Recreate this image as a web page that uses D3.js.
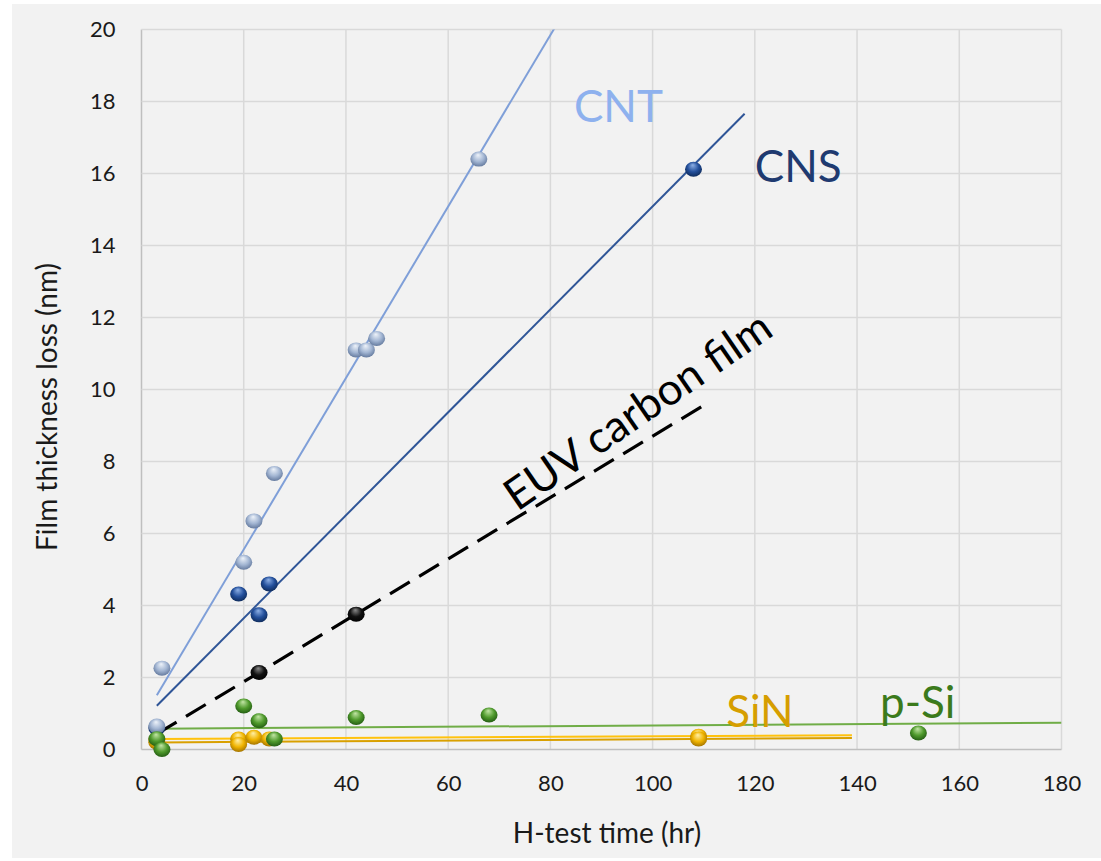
<!DOCTYPE html>
<html>
<head>
<meta charset="utf-8">
<script src="https://cdn.jsdelivr.net/npm/d3@7"></script>
<style>
  body { margin: 0; background: #ffffff; }
  svg { display: block; }
  .tick text { font-family: Lato, "Open Sans", sans-serif; font-size: 22px; fill: #1a1a1a; }
  .axisTitle { font-family: Lato, "Open Sans", sans-serif; fill: #1a1a1a; }
  .label { font-family: Lato, "Open Sans", sans-serif; }
</style>
</head>
<body>
<svg width="1101" height="861"></svg>
<script>
// data (H-test time in hr, thickness loss in nm)
const cntX = [3, 4, 20, 22, 26, 42, 44, 46, 66]
const cntY = [0.65, 2.26, 5.2, 6.35, 7.67, 11.1, 11.1, 11.42, 16.4]

const cnsX = [3, 19, 23, 25, 108]
const cnsY = [0.6, 4.32, 3.74, 4.6, 16.12]

const euvX = [23, 42]
const euvY = [2.14, 3.76]

const psiX = [3, 4, 20, 23, 26, 42, 68, 152]
const psiY = [0.3, 0.0, 1.21, 0.8, 0.29, 0.89, 0.96, 0.46]

const sinAX = [3, 19, 22, 109]
const sinAY = [0.27, 0.29, 0.34, 0.37]
const sinBX = [3, 19, 25, 109]
const sinBY = [0.2, 0.14, 0.29, 0.29]

// x range each trendline is drawn over
const cntRange = [3, 90]
const cnsRange = [3, 118]
const euvRange = [3, 111]
const psiRange = [3, 180]
const sinRange = [3, 139]

const xTicks = [0, 20, 40, 60, 80, 100, 120, 140, 160, 180]
const yTicks = [0, 2, 4, 6, 8, 10, 12, 14, 16, 18, 20]

const svg = d3.select("svg")

//grey chart background
svg.append("rect")
	.attr("x", 12).attr("y", 4)
	.attr("width", 1089).attr("height", 854)
	.attr("fill", "#f2f2f2")

const xScale = d3.scaleLinear()
	.domain([0, 180])
	.range([141.5, 1061.5])

const yScale = d3.scaleLinear()
	.domain([0, 20])
	.range([749.5, 29.5])

//gradients for the ball markers
const defs = svg.append("defs")
const balls = {
	cnt: ["#eef3fa", "#a3b6d3", "#5d7398"],
	cns: ["#8fb1e6", "#24509c", "#0c2754"],
	psi: ["#c3e6a6", "#4f9a2c", "#1f5610"],
	sin: ["#fff0a8", "#f0b400", "#9a6c00"],
	euv: ["#8a8a8a", "#111111", "#000000"]
}
Object.keys(balls).forEach(k => {
	const g = defs.append("radialGradient")
		.attr("id", "ball-" + k)
		.attr("cx", "50%").attr("cy", "45%").attr("r", "60%")
		.attr("fx", "45%").attr("fy", "22%")
	g.append("stop").attr("offset", "0%").attr("stop-color", balls[k][0])
	g.append("stop").attr("offset", "55%").attr("stop-color", balls[k][1])
	g.append("stop").attr("offset", "100%").attr("stop-color", balls[k][2])
})

defs.append("clipPath").attr("id", "plotClip")
	.append("rect")
	.attr("x", xScale(0)).attr("y", yScale(20))
	.attr("width", xScale(180) - xScale(0))
	.attr("height", yScale(0) - yScale(20))

//gridlines
const grid = svg.append("g").attr("class", "grid")
grid.selectAll("line.v")
	.data(xTicks)
	.enter()
	.append("line")
	.attr("class", "v")
	.attr("x1", d => xScale(d)).attr("x2", d => xScale(d))
	.attr("y1", yScale(0)).attr("y2", yScale(20))
	.attr("stroke", d => d == 0 ? "#bfbfbf" : "#d9d9d9")
	.attr("stroke-width", 1.5)
grid.selectAll("line.h")
	.data(yTicks)
	.enter()
	.append("line")
	.attr("class", "h")
	.attr("x1", xScale(0)).attr("x2", xScale(180))
	.attr("y1", d => yScale(d)).attr("y2", d => yScale(d))
	.attr("stroke", d => d == 0 ? "#bfbfbf" : "#d9d9d9")
	.attr("stroke-width", 1.5)

//axes, labels only
const xAxis = d3.axisBottom(xScale).tickValues(xTicks).tickSize(0).tickPadding(26)
const yAxis = d3.axisLeft(yScale).tickValues(yTicks).tickSize(0).tickPadding(26)

svg.append("g")
	.attr("transform", "translate(0," + yScale(0) + ")")
	.call(xAxis)
	.call(g => g.select(".domain").remove())
svg.append("g")
	.attr("transform", "translate(" + xScale(0) + ",0)")
	.call(yAxis)
	.call(g => g.select(".domain").remove())

svg.append("text")
	.attr("class", "axisTitle")
	.attr("x", 607).attr("y", 843)
	.attr("text-anchor", "middle")
	.attr("font-size", 28)
	.text("H-test time (hr)")

svg.append("text")
	.attr("class", "axisTitle")
	.attr("transform", "translate(57,407) rotate(-90)")
	.attr("text-anchor", "middle")
	.attr("font-size", 28)
	.text("Film thickness loss (nm)")

//least squares trendline, like the spreadsheet one
const fit = function (xs, ys) {
	const mx = d3.mean(xs), my = d3.mean(ys)
	let sxy = 0, sxx = 0
	xs.forEach((x, i) => { sxy += (x - mx) * (ys[i] - my); sxx += (x - mx) * (x - mx) })
	const slope = sxy / sxx
	return x => my + slope * (x - mx)
}

const line = d3.line()
	.x(d => xScale(d[0]))
	.y(d => yScale(d[1]))

const trend = function (xs, ys, range) {
	const f = fit(xs, ys)
	return line(range.map(x => [x, f(x)]))
}

const lines = svg.append("g").attr("clip-path", "url(#plotClip)")

lines.append("path").attr("d", trend(sinBX, sinBY, sinRange))
	.attr("fill", "none").attr("stroke", "#d9a000").attr("stroke-width", 2)
lines.append("path").attr("d", trend(sinAX, sinAY, sinRange))
	.attr("fill", "none").attr("stroke", "#ffc20e").attr("stroke-width", 2)
lines.append("path").attr("d", trend(psiX, psiY, psiRange))
	.attr("fill", "none").attr("stroke", "#70ad47").attr("stroke-width", 2)
lines.append("path").attr("d", trend(cnsX, cnsY, cnsRange))
	.attr("fill", "none").attr("stroke", "#2f5597").attr("stroke-width", 2)
lines.append("path").attr("d", trend(cntX, cntY, cntRange))
	.attr("fill", "none").attr("stroke", "#7f9fd8").attr("stroke-width", 2)

//ball markers
const drawBalls = function (xs, ys, key) {
	svg.append("g")
		.selectAll("ellipse")
		.data(xs.map((x, i) => [x, ys[i]]))
		.enter()
		.append("ellipse")
		.attr("cx", d => xScale(d[0]))
		.attr("cy", d => yScale(d[1]))
		.attr("rx", 8.5)
		.attr("ry", 7.5)
		.attr("fill", "url(#ball-" + key + ")")
}

drawBalls(cnsX, cnsY, "cns")
drawBalls(cntX, cntY, "cnt")
drawBalls(sinAX, sinAY, "sin")
drawBalls(sinBX, sinBY, "sin")
drawBalls(psiX, psiY, "psi")

//dashed EUV line on top
lines.append("path").attr("d", trend(euvX, euvY, euvRange))
	.attr("fill", "none").attr("stroke", "#000000").attr("stroke-width", 3.2)
	.attr("stroke-dasharray", "23,11")
drawBalls(euvX, euvY, "euv")

//series labels
const labels = [
	{ text: "CNT", x: 84.6, y: 17.43, color: "#8eb1ee" },
	{ text: "CNS", x: 120, y: 15.76, color: "#1f3a70" },
	{ text: "SiN", x: 114.4, y: 0.625, color: "#d69e00" },
	{ text: "p-Si", x: 144.5, y: 0.875, color: "#3b7a1c" }
]
svg.selectAll("text.label")
	.data(labels)
	.enter()
	.append("text")
	.attr("class", "label")
	.attr("x", d => xScale(d.x))
	.attr("y", d => yScale(d.y))
	.attr("font-size", 44)
	.attr("fill", d => d.color)
	.text(d => d.text)

svg.append("text")
	.attr("class", "label")
	.attr("transform", "translate(" + xScale(73.5) + "," + yScale(6.6) + ") rotate(-34.5)")
	.attr("font-size", 44)
	.attr("fill", "#000")
	.text("EUV carbon film")
</script>
</body>
</html>
